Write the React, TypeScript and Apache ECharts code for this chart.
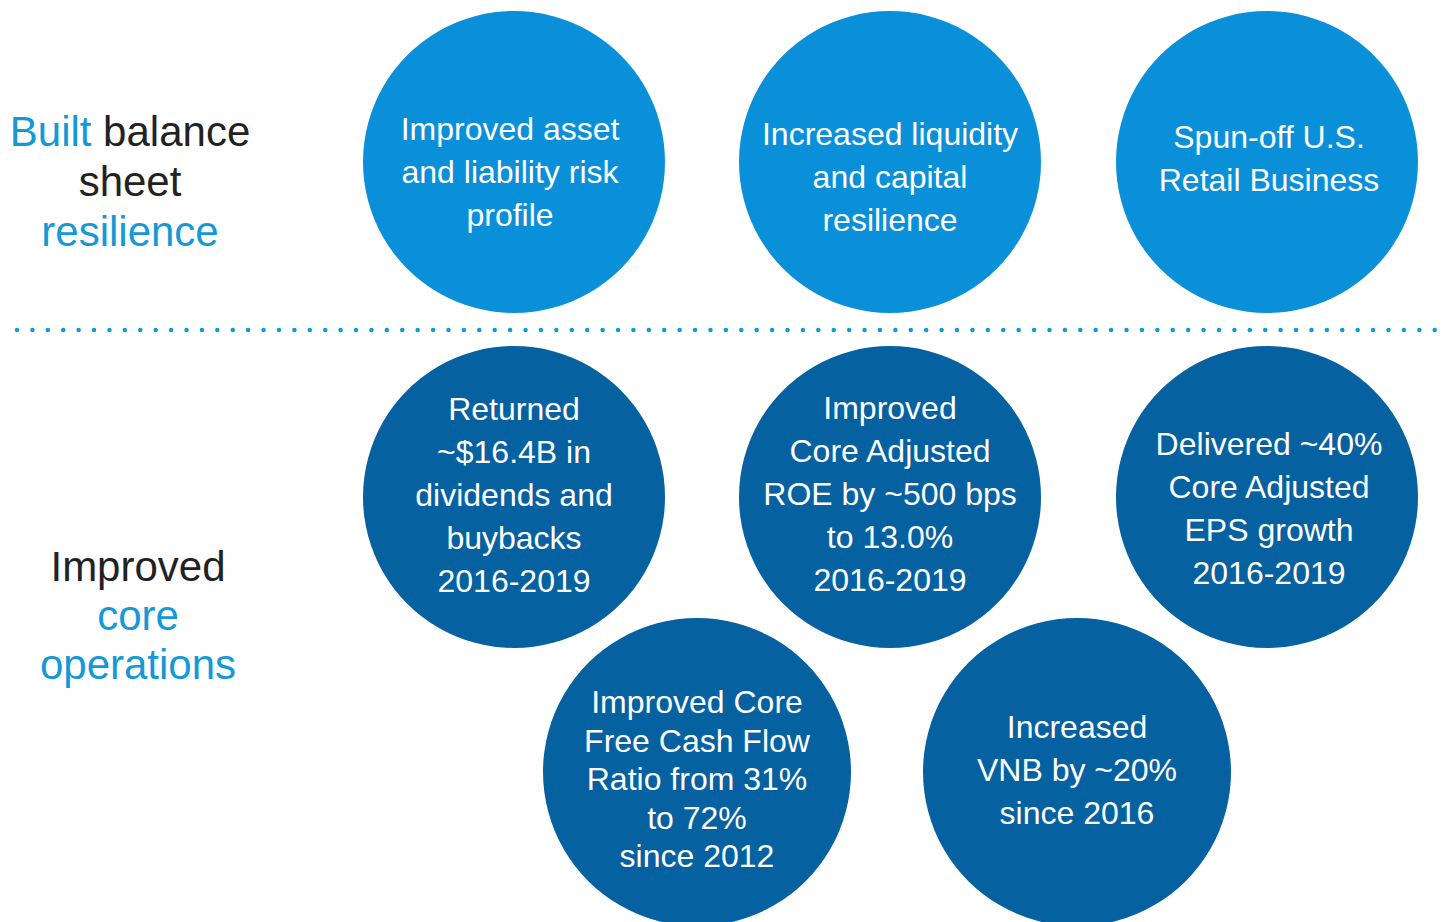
import React, { useEffect, useRef } from "react";
import * as echarts from "echarts";

// ---- data ----
const circleLabels: string[] = [
  "Improved asset\nand liability risk\nprofile",
  "Increased liquidity\nand capital\nresilience",
  "Spun-off U.S.\nRetail Business",
  "Returned\n~$16.4B in\ndividends and\nbuybacks\n2016-2019",
  "Improved\nCore Adjusted\nROE by ~500 bps\nto 13.0%\n2016-2019",
  "Delivered ~40%\nCore Adjusted\nEPS growth\n2016-2019",
  "Improved Core\nFree Cash Flow\nRatio from 31%\nto 72%\nsince 2012",
  "Increased\nVNB by ~20%\nsince 2016",
];
const circleGroup: string[] = [
  "Built balance sheet resilience",
  "Built balance sheet resilience",
  "Built balance sheet resilience",
  "Improved core operations",
  "Improved core operations",
  "Improved core operations",
  "Improved core operations",
  "Improved core operations",
];
const circleCol: number[] = [514, 890, 1267, 514, 890, 1267, 697, 1077];
const circleRow: number[] = [162, 162, 162, 497, 497, 497, 772, 772];

const sectionTitles = {
  top: [["Built", " balance"], ["sheet"], ["resilience"]],
  bottom: [["Improved"], ["core"], ["operations"]],
};

// ---- styles ----
const LIGHT = "#0a90d8";
const DARK = "#0561a0";
const ACCENT = "#1599d6";
const INK = "#222222";
const FONT = "'Liberation Sans', Arial, Helvetica, sans-serif";

const labelOffsets: number[][] = [
  [-4, 10], [0, 15], [2, -4], [0, -2], [0, -3], [2, 11], [0, 7], [0, -2],
];
const labelLineHeights = [43, 43, 43, 43, 43, 43, 38.5, 43];

export default function App() {
  const ref = useRef<HTMLDivElement>(null);
  useEffect(() => {
    document.body.style.margin = "0";
    const chart = echarts.init(ref.current!, null, { renderer: "svg" });

    const makeData = (group: string) =>
      circleLabels
        .map((label, i) => ({ label, i }))
        .filter((d) => circleGroup[d.i] === group)
        .map(({ label, i }) => ({
          value: [circleCol[i], circleRow[i]],
          name: label,
          symbolSize: circleRow[i] > 700 ? 308 : 302,
          label: {
            offset: labelOffsets[i],
            lineHeight: labelLineHeights[i],
          },
        }));

    const seriesFor = (group: string, color: string) => ({
      type: "scatter",
      name: group,
      symbol: "circle",
      data: makeData(group),
      itemStyle: { color, opacity: 1 },
      label: {
        show: true,
        position: "inside",
        formatter: (p: any) => p.name,
        color: "#ffffff",
        fontSize: 32,
        fontFamily: FONT,
        lineHeight: 43,
        align: "center",
        verticalAlign: "middle",
      },
      emphasis: { disabled: true },
      silent: true,
    });

    const titleText = (lines: string[][], cx: number, y0: number, step: number, firstInk: boolean[]) =>
      lines.map((parts, li) => ({
        type: "text",
        x: cx,
        y: y0 + li * step,
        style: {
          text: parts.map((p, pi) => `{${firstInk[li * 2 + pi] ? "k" : "b"}|${p}}`).join(""),
          align: "center",
          verticalAlign: "middle",
          rich: {
            k: { fill: INK, fontSize: 42, fontFamily: FONT },
            b: { fill: ACCENT, fontSize: 42, fontFamily: FONT },
          },
        },
      }));

    chart.setOption({
      animation: false,
      backgroundColor: "#ffffff",
      grid: { left: 0, right: 0, top: 0, bottom: 0 },
      xAxis: { type: "value", min: 0, max: 1442, show: false },
      yAxis: { type: "value", min: 0, max: 922, inverse: true, show: false },
      series: [
        seriesFor("Built balance sheet resilience", LIGHT),
        seriesFor("Improved core operations", DARK),
      ],
      graphic: [
        {
          type: "line",
          shape: { x1: 17, y1: 330, x2: 1436, y2: 330 },
          style: {
            stroke: ACCENT,
            lineWidth: 4.5,
            lineCap: "round",
            lineDash: [0.01, 15.4],
          },
        },
        ...titleText(sectionTitles.top, 130, 131, 50, [false, true, true, false, false, false]),
        ...titleText(sectionTitles.bottom, 138, 566, 49, [true, false, false, false, false, false]),
      ],
    });
    return () => chart.dispose();
  }, []);
  return (
    <div
      ref={ref}
      style={{ position: "fixed", left: 0, top: 0, width: 1442, height: 922 }}
    />
  );
}
